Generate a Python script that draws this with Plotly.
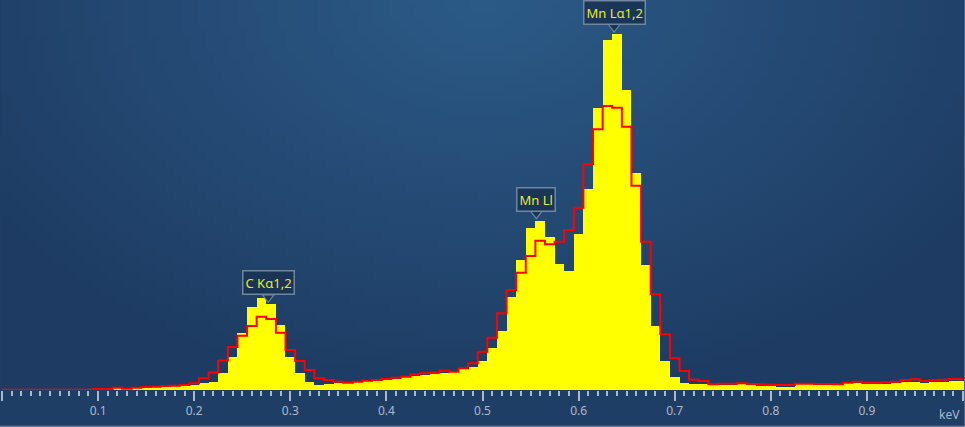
import base64
import struct
import zlib

import numpy as np
import plotly.graph_objects as go

# spectrum, 10 eV channels from 0 to 1 keV
energy = np.round(np.arange(101) * 0.01, 2)

measured = [
    0, 0, 0, 0, 0, 0, 0, 0, 0, 0,
    0.5, 0.7, 1.7, 1.0, 1.7, 2.3, 2.7, 3.3, 3.7, 4.3,
    5.0, 6.7, 8.0, 16.7, 33, 56.7, 83.3, 91.7, 85.7, 65,
    33, 17.5, 8.5, 5.5, 5.7, 6.7, 7.3, 7.7, 8.7, 9.3,
    10.3, 11.3, 12.7, 14.3, 14.7, 16.3, 17, 18.3, 20.7, 23.3,
    29, 41.7, 59, 93.3, 130, 161.7, 169.3, 153.3, 125.7, 119,
    156, 200.7, 282.3, 350, 356, 300, 217.3, 125, 64, 29,
    13.3, 7, 6.3, 5.7, 4.7, 5, 5.3, 5.7, 5, 4.3,
    4, 3.3, 3.3, 5.7, 6, 5.3, 5, 5, 6.7, 7.3,
    5.7, 6, 6, 6.7, 8.3, 7.7, 6.7, 7.7, 8.3, 9,
    9,
]

fitted = [
    0.3, 0.3, 0.3, 0.3, 0.3, 0.3, 0.3, 0.3, 0.3, 0.3,
    1, 1, 2.3, 1.3, 2.3, 3, 3.3, 4, 4.3, 5,
    6.7, 11.7, 17.5, 29.5, 43, 54.3, 64, 73.3, 71, 57.3,
    40, 29, 20, 11.7, 10, 8.3, 7.3, 8.3, 9.3, 10,
    11, 12.3, 13.3, 15.7, 16.7, 17.3, 19.3, 18.3, 21.7, 26.7,
    38.3, 52.3, 76.7, 100, 117.3, 134, 149.3, 145.7, 148.3, 160,
    182.3, 226, 260.7, 284, 282.3, 263.3, 204.3, 148.3, 95.7, 55.7,
    31.7, 19, 10.3, 9, 5.7, 6.3, 6.3, 6.7, 6, 5.7,
    5.3, 5, 5, 6.3, 6.3, 6, 6, 5.7, 7.3, 8.3,
    7.3, 7.3, 7.7, 8.3, 10, 10.7, 9, 9.7, 10.3, 11,
    10.7,
]

# identified lines (keV)
line_names = ["C K\u03b11,2", "Mn Ll", "Mn L\u03b11,2"]
line_energy = [0.277, 0.556, 0.637]

tick_vals = [0, 0.1, 0.2, 0.3, 0.4, 0.5, 0.6, 0.7, 0.8, 0.9, 1.0]
tick_text = ["0", "0.1", "0.2", "0.3", "0.4", "0.5", "0.6", "0.7", "0.8", "0.9", ""]


def gradient_png(w=120, h=48):
    # soft radial glow, lighter at the top centre
    light = np.array([44, 91, 136])
    dark = np.array([30, 60, 99])
    rows = []
    for j in range(h):
        row = bytearray([0])
        for i in range(w):
            dx = (i / (w - 1) - 0.5) / 0.62
            dy = (j / (h - 1)) / 1.05
            d = min(1.0, (dx * dx + dy * dy) ** 0.5)
            c = light + (dark - light) * d
            row += bytes(int(v) for v in c)
        rows.append(bytes(row))
    raw = b"".join(rows)

    def chunk(tag, data):
        return (struct.pack(">I", len(data)) + tag + data
                + struct.pack(">I", zlib.crc32(tag + data) & 0xFFFFFFFF))

    png = b"\x89PNG\r\n\x1a\n"
    png += chunk(b"IHDR", struct.pack(">IIBBBBB", w, h, 8, 2, 0, 0, 0))
    png += chunk(b"IDAT", zlib.compress(raw, 9))
    png += chunk(b"IEND", b"")
    return "data:image/png;base64," + base64.b64encode(png).decode()


fig = go.Figure()
fig.add_trace(go.Bar(x=energy, y=measured, width=0.01,
                     marker=dict(color="#ffff00", line=dict(width=0)),
                     showlegend=False))
fig.add_trace(go.Scatter(x=energy, y=fitted, mode="lines",
                         line=dict(color="#ff0000", width=2, shape="hvh"),
                         showlegend=False))

# callouts: box above the peak with a small notch pointing down
box_bg = "rgba(26,52,84,0.93)"
box_edge = "#6f869e"
tips = []
for name, e in zip(line_names, line_energy):
    k = int(round(e / 0.01))
    top = max(measured[k - 1:k + 2]) if name.startswith("Mn L\u03b1") else measured[k]
    tips.append(top + 3)
    fig.add_annotation(x=e, y=top + 9, text=name, showarrow=False,
                       xanchor="center", yanchor="bottom",
                       font=dict(family="Noto Sans", size=13, color="#e9e936"),
                       bgcolor=box_bg, bordercolor=box_edge, borderwidth=1.5,
                       borderpad=2)
fig.add_trace(go.Scatter(x=line_energy, y=[t + 4 for t in tips], mode="markers",
                         marker=dict(symbol="triangle-down", size=10, color=box_bg,
                                     line=dict(color=box_edge, width=1.2)),
                         showlegend=False, hoverinfo="skip"))

fig.add_annotation(x=1, y=0, xref="paper", yref="paper", text="keV",
                   showarrow=False, xanchor="right", yanchor="top",
                   xshift=-2, yshift=-14,
                   font=dict(family="Noto Sans", size=12, color="#a9b9cb"))

# thin frame on the right and bottom edges of the panel
fig.add_shape(type="line", xref="paper", yref="paper", x0=1.001, x1=1.001,
              y0=-0.095, y1=1, line=dict(color="#7d8fa3", width=1))
fig.add_shape(type="line", xref="paper", yref="paper", x0=-0.002, x1=1.001,
              y0=-0.093, y1=-0.093, line=dict(color="#7d8fa3", width=1))

fig.update_layout(
    width=965, height=427,
    margin=dict(l=1, r=1, t=0, b=37),
    paper_bgcolor="#1f3e65",
    plot_bgcolor="rgba(0,0,0,0)",
    bargap=0,
    images=[dict(source=gradient_png(), xref="paper", yref="paper",
                 x=0, y=1, sizex=1, sizey=1, sizing="stretch",
                 xanchor="left", yanchor="top", layer="below")],
)
fig.update_xaxes(range=[-1 / 963, 1 + 1 / 963], showgrid=False, zeroline=False,
                 showline=False, ticks="outside", ticklen=10, tickwidth=2,
                 tickcolor="#a9b9cb", tickvals=tick_vals, ticktext=tick_text,
                 tickfont=dict(family="Noto Sans", size=12, color="#a9b9cb"),
                 minor=dict(dtick=0.01, ticks="outside", ticklen=5, tickwidth=2,
                            tickcolor="#a9b9cb"))
fig.update_yaxes(range=[0, 390], visible=False)

# page body has a default 8px margin; drop it so the chart fills the window
fig.write_html("out.html", config={"displayModeBar": False},
               post_script="document.body.style.margin='0';")
